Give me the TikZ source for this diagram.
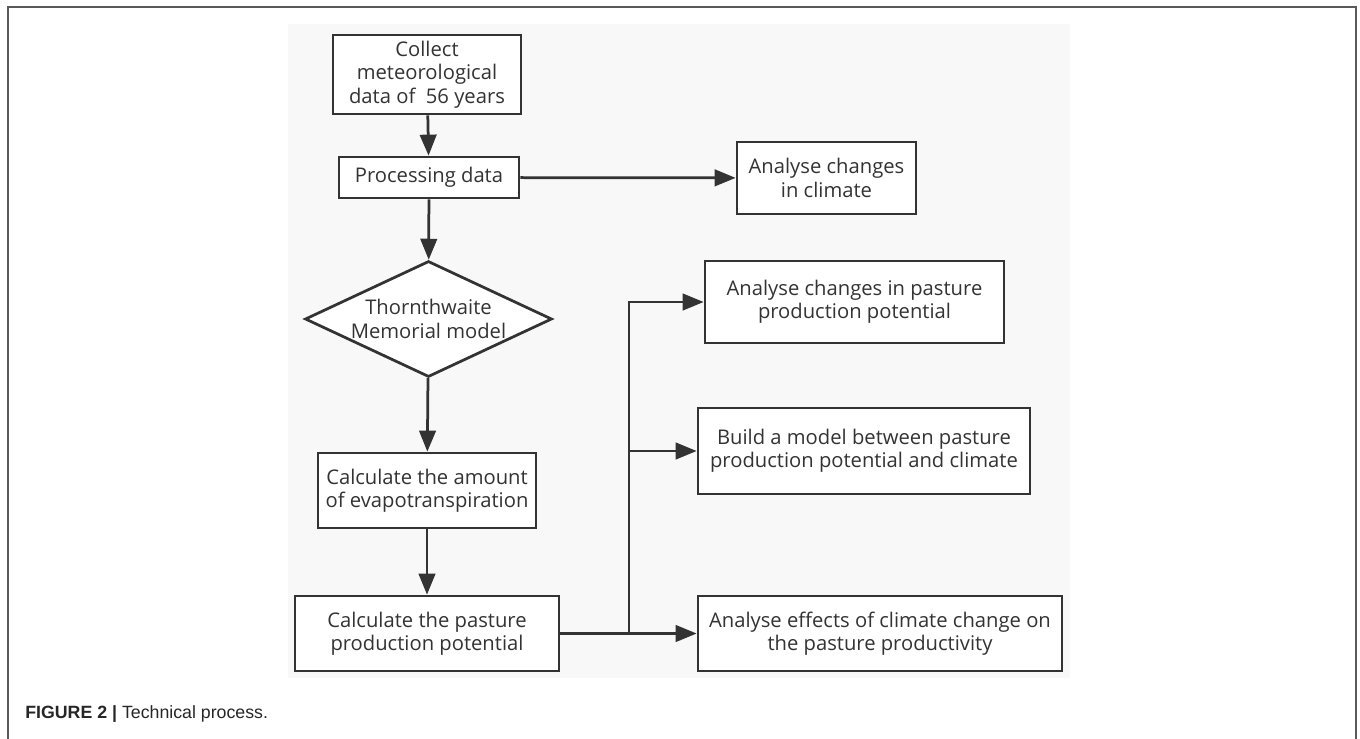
\documentclass[tikz,border=0pt]{standalone}
\usepackage{fontspec}
\setmainfont{Open Sans}
\newfontfamily\capfont{Liberation Sans}
\usetikzlibrary{shapes.geometric,arrows.meta,positioning}
\definecolor{linegray}{HTML}{333333}
\definecolor{panelgray}{HTML}{F8F8F8}
\definecolor{framegray}{HTML}{5A5A5A}

\begin{document}
\begin{tikzpicture}[
    x=0.02cm, y=-0.02cm,
    box/.style={rectangle, draw=linegray, line width=0.055cm, fill=white, align=center, inner sep=0pt, text=linegray, font=\fontsize{11.5}{13.3}\selectfont},
    decision/.style={diamond, draw=linegray, line width=0.055cm, fill=white, align=center, inner xsep=-0.15cm, inner ysep=0pt, shape aspect=2.13, text=linegray, font=\fontsize{11.5}{13.3}\selectfont, minimum width=4.94cm, minimum height=2.32cm},
    arrow/.style={->, >={Triangle[length=0.42cm,width=0.33cm]}, draw=linegray, line width=0.055cm}
]
    \useasboundingbox (0,0) rectangle (1360,738);
    % frame and panel
    \draw[framegray, line width=0.04cm] (8,760) -- (8,7) -- (1356,7) -- (1356,760);
    \fill[panelgray] (288,24) rectangle (1070,678);

    \node[box, minimum width=3.76cm, minimum height=1.58cm] (collect) at (427,74.5) {Collect\\meteorological\\data of\ \ 56 years};
    \node[box, minimum width=3.6cm, minimum height=0.82cm] (proc) at (429,177.5) {Processing data};
    \node[box, minimum width=3.58cm, minimum height=1.44cm] (climate) at (826.5,178) {Analyse changes\\in climate};
    \node[decision] (model) at (428.5,319) {Thornthwaite\\Memorial model};
    \node[box, minimum width=4.36cm, minimum height=1.5cm] (amount) at (427,490.5) {Calculate the amount\\of evapotranspiration};
    \node[box, minimum width=5.28cm, minimum height=1.5cm] (pasture) at (427,633.5) {Calculate the pasture\\production potential};
    \node[box, minimum width=5.98cm, minimum height=1.64cm] (trend) at (854.5,302) {Analyse changes in pasture\\production potential};
    \node[box, minimum width=6.64cm, minimum height=1.72cm] (relation) at (864,451) {Build a model between pasture\\production potential and climate};
    \node[box, minimum width=7.28cm, minimum height=1.5cm] (effect) at (880,633.5) {Analyse effects of climate change on\\the pasture productivity};
    \coordinate (split) at (629,633.5);

    \draw[arrow] (collect) -- (proc);
    \draw[arrow] (proc) -- (climate);
    \draw[arrow] (proc) -- (model);
    \draw[arrow] (model) -- (amount);
    \draw[arrow] (amount) -- (pasture);
    \draw[arrow] (pasture) -- (effect);
    \draw[arrow] (split) |- (trend);
    \draw[arrow] (split) |- (relation);

    \node[anchor=base west, inner sep=0pt, text=black!85, font=\capfont\fontsize{10.1}{12}\selectfont] (caption) at (25,718) {\textbf{FIGURE 2 |} Technical process.};
\end{tikzpicture}
\end{document}
